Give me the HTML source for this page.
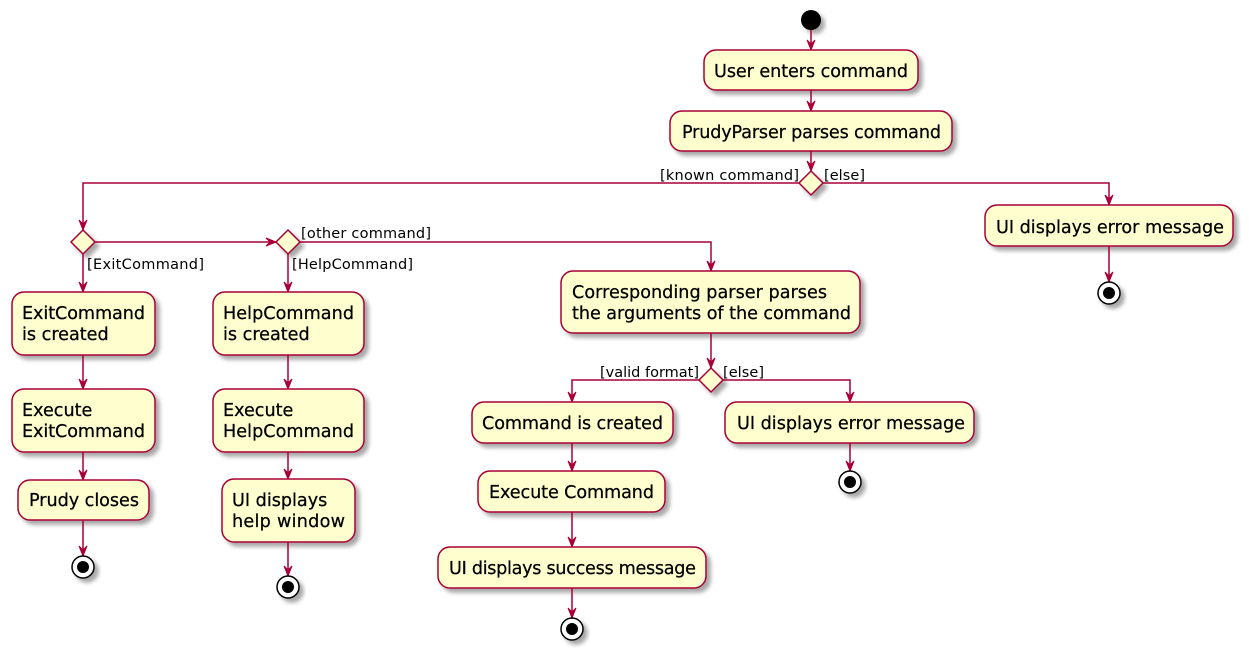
<!DOCTYPE html>
<html><head><meta charset="utf-8"><style>
html,body{margin:0;padding:0;background:#fff;}
svg{display:block;}
.b{fill:#FEFECE;stroke:#A80036;stroke-width:1.5;filter:url(#sh);}
.l{stroke:#A80036;stroke-width:1.5;fill:none;}
.a{fill:#A80036;stroke:#A80036;stroke-width:1;}
.t{font-family:"DejaVu Sans","Liberation Sans",sans-serif;font-size:17.6px;fill:#000;stroke:#000;stroke-width:0.25;}
.s{font-family:"DejaVu Sans","Liberation Sans",sans-serif;font-size:14.5px;fill:#000;}
.e{fill:#000;filter:url(#sh);}
</style></head><body>
<svg width="1249" height="656" viewBox="0 0 1249 656" xmlns="http://www.w3.org/2000/svg">
<defs><filter id="sh" x="-20%" y="-20%" width="150%" height="160%"><feGaussianBlur in="SourceAlpha" stdDeviation="2"/><feOffset dx="4" dy="4"/><feComponentTransfer><feFuncA type="linear" slope="0.35"/></feComponentTransfer><feMerge><feMergeNode/><feMergeNode in="SourceGraphic"/></feMerge></filter></defs>

<circle cx="811" cy="20" r="10" class="e"/>
<line x1="811" y1="30" x2="811" y2="50" class="l"/><polygon class="a" points="807,40 811,50 815,40 811,44"/>
<rect x="704" y="50" width="214" height="40" rx="12" class="b"/>
<text x="714" y="77" class="t" textLength="194">User enters command</text>
<line x1="811" y1="90" x2="811" y2="111" class="l"/><polygon class="a" points="807,101 811,111 815,101 811,105"/>
<rect x="670" y="111" width="282" height="40" rx="12" class="b"/>
<text x="682" y="138" class="t" textLength="259">PrudyParser parses command</text>
<line x1="811" y1="151" x2="811" y2="171" class="l"/><polygon class="a" points="807,161 811,171 815,161 811,165"/>
<polygon class="b" points="811,171 823,183 811,195 799,183"/>
<text x="660" y="180" class="s" textLength="139">[known command]</text>
<text x="824" y="180" class="s" textLength="41">[else]</text>

<polyline points="799,183 83,183 83,230" class="l"/><polygon class="a" points="79,220 83,230 87,220 83,224"/>
<polyline points="823,183 1109,183 1109,205" class="l"/><polygon class="a" points="1105,195 1109,205 1113,195 1109,199"/>
<rect x="985" y="205" width="248" height="41" rx="12" class="b"/>
<text x="996" y="233" class="t" textLength="228">UI displays error message</text>
<line x1="1109" y1="246" x2="1109" y2="282" class="l"/><polygon class="a" points="1105,272 1109,282 1113,272 1109,276"/>
<circle cx="1109" cy="293" r="11" fill="#fff" stroke="#000" stroke-width="1.5" filter="url(#sh)"/><circle cx="1109" cy="293" r="6" fill="#000"/>

<polygon class="b" points="83,230 95,242 83,254 71,242"/>
<line x1="95" y1="242" x2="276" y2="242" class="l"/><polygon class="a" points="266,238 276,242 266,246 270,242"/>
<polygon class="b" points="288,230 300,242 288,254 276,242"/>
<text x="301" y="238" class="s" textLength="130">[other command]</text>
<polyline points="300,242 711,242 711,271" class="l"/><polygon class="a" points="707,261 711,271 715,261 711,265"/>
<text x="87" y="269" class="s" textLength="117">[ExitCommand]</text>
<text x="292" y="269" class="s" textLength="121">[HelpCommand]</text>

<line x1="83" y1="254" x2="83" y2="292" class="l"/><polygon class="a" points="79,282 83,292 87,282 83,286"/>
<rect x="12" y="292" width="143" height="63" rx="12" class="b"/>
<text x="22" y="319" class="t" textLength="123">ExitCommand</text><text x="22" y="340" class="t">is created</text>
<line x1="83" y1="355" x2="83" y2="389" class="l"/><polygon class="a" points="79,379 83,389 87,379 83,383"/>
<rect x="12" y="389" width="143" height="63" rx="12" class="b"/>
<text x="22" y="416" class="t">Execute</text><text x="22" y="437" class="t" textLength="123">ExitCommand</text>
<line x1="83" y1="452" x2="83" y2="480" class="l"/><polygon class="a" points="79,470 83,480 87,470 83,474"/>
<rect x="18" y="480" width="131" height="40" rx="12" class="b"/>
<text x="29" y="506" class="t" textLength="110">Prudy closes</text>
<line x1="83" y1="520" x2="83" y2="556" class="l"/><polygon class="a" points="79,546 83,556 87,546 83,550"/>
<circle cx="83" cy="567" r="11" fill="#fff" stroke="#000" stroke-width="1.5" filter="url(#sh)"/><circle cx="83" cy="567" r="6" fill="#000"/>

<line x1="288" y1="254" x2="288" y2="292" class="l"/><polygon class="a" points="284,282 288,292 292,282 288,286"/>
<rect x="213" y="292" width="151" height="63" rx="12" class="b"/>
<text x="223" y="319" class="t" textLength="131">HelpCommand</text><text x="223" y="340" class="t">is created</text>
<line x1="288" y1="355" x2="288" y2="389" class="l"/><polygon class="a" points="284,379 288,389 292,379 288,383"/>
<rect x="213" y="389" width="151" height="63" rx="12" class="b"/>
<text x="223" y="416" class="t">Execute</text><text x="223" y="437" class="t" textLength="131">HelpCommand</text>
<line x1="288" y1="452" x2="288" y2="479" class="l"/><polygon class="a" points="284,469 288,479 292,469 288,473"/>
<rect x="222" y="479" width="133" height="63" rx="12" class="b"/>
<text x="232" y="506" class="t">UI displays</text><text x="232" y="527" class="t" textLength="113">help window</text>
<line x1="288" y1="542" x2="288" y2="576" class="l"/><polygon class="a" points="284,566 288,576 292,566 288,570"/>
<circle cx="288" cy="587" r="11" fill="#fff" stroke="#000" stroke-width="1.5" filter="url(#sh)"/><circle cx="288" cy="587" r="6" fill="#000"/>

<rect x="561" y="271" width="299" height="62" rx="12" class="b"/>
<text x="572" y="298" class="t" textLength="255">Corresponding parser parses</text><text x="572" y="319" class="t" textLength="279">the arguments of the command</text>
<line x1="711" y1="333" x2="711" y2="368" class="l"/><polygon class="a" points="707,358 711,368 715,358 711,362"/>
<polygon class="b" points="711,368 723,380 711,392 699,380"/>
<text x="600" y="377" class="s" textLength="99">[valid format]</text>
<text x="723" y="377" class="s" textLength="41">[else]</text>
<polyline points="699,380 572,380 572,402" class="l"/><polygon class="a" points="568,392 572,402 576,392 572,396"/>
<polyline points="723,380 850,380 850,402" class="l"/><polygon class="a" points="846,392 850,402 854,392 850,396"/>
<rect x="472" y="402" width="201" height="41" rx="12" class="b"/>
<text x="482" y="429" class="t" textLength="181">Command is created</text>
<rect x="725" y="402" width="249" height="41" rx="12" class="b"/>
<text x="737" y="429" class="t" textLength="228">UI displays error message</text>
<line x1="850" y1="443" x2="850" y2="471" class="l"/><polygon class="a" points="846,461 850,471 854,461 850,465"/>
<circle cx="850" cy="482" r="11" fill="#fff" stroke="#000" stroke-width="1.5" filter="url(#sh)"/><circle cx="850" cy="482" r="6" fill="#000"/>
<line x1="572" y1="443" x2="572" y2="471" class="l"/><polygon class="a" points="568,461 572,471 576,461 572,465"/>
<rect x="478" y="471" width="187" height="41" rx="12" class="b"/>
<text x="489" y="498" class="t" textLength="165">Execute Command</text>
<line x1="572" y1="512" x2="572" y2="547" class="l"/><polygon class="a" points="568,537 572,547 576,537 572,541"/>
<rect x="438" y="547" width="268" height="41" rx="12" class="b"/>
<text x="449" y="574" class="t" textLength="247">UI displays success message</text>
<line x1="572" y1="588" x2="572" y2="618" class="l"/><polygon class="a" points="568,608 572,618 576,608 572,612"/>
<circle cx="572" cy="629" r="11" fill="#fff" stroke="#000" stroke-width="1.5" filter="url(#sh)"/><circle cx="572" cy="629" r="6" fill="#000"/>
</svg>
</body></html>
